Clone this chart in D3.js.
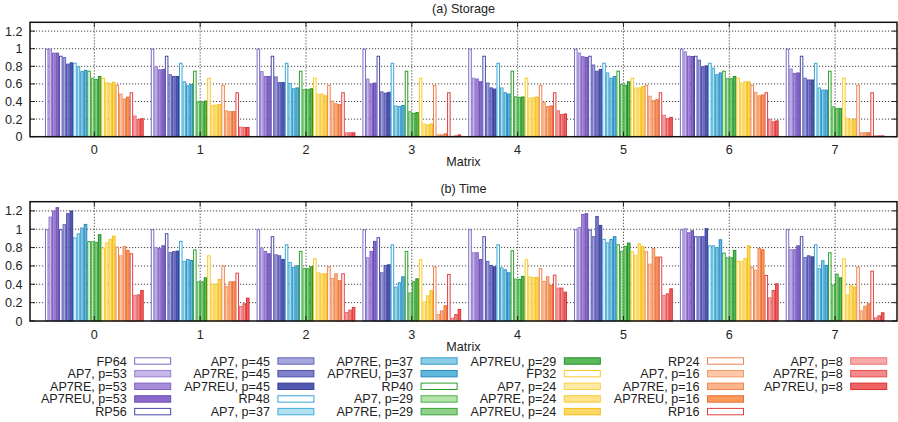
<!DOCTYPE html>
<html><head><meta charset="utf-8">
<script src="https://cdn.jsdelivr.net/npm/d3@7"></script>
<style>
body{margin:0;background:#fff}
text{font-family:"Liberation Sans",Arial,Helvetica,sans-serif;fill:#222}
</style>
</head><body>
<svg id="chart" width="898" height="422"></svg>
<script>
const matrices = ["0","1","2","3","4","5","6","7"];
const seriesNames = ["FP64","AP7, p=53","AP7RE, p=53","AP7REU, p=53","RP56",
  "AP7, p=45","AP7RE, p=45","AP7REU, p=45","RP48",
  "AP7, p=37","AP7RE, p=37","AP7REU, p=37","RP40",
  "AP7, p=29","AP7RE, p=29","AP7REU, p=29","FP32",
  "AP7, p=24","AP7RE, p=24","AP7REU, p=24","RP24",
  "AP7, p=16","AP7RE, p=16","AP7REU, p=16","RP16",
  "AP7, p=8","AP7RE, p=8","AP7REU, p=8"];
const fillColors = ["#ffffff","#c7b6e8","#a98cd9","#8a6acb","#ffffff",
  "#a7a7de","#8080cc","#5359b1","#ffffff",
  "#b2e1ef","#8dcfe8","#5fb7de","#ffffff",
  "#b3e5ab","#92d18a","#5ab95a","#ffffff",
  "#feeaa3","#fee48a","#fdd863","#ffffff",
  "#fdc8a8","#fcb58a","#fa9b5c","#ffffff",
  "#f9aaaa","#f68a8a","#f16262"];
const strokeColors = ["#7a6cc4","#9a80d0","#8062c4","#6a4bb2","#4848a8",
  "#6464bc","#4e4eaa","#3a3f98","#3aa6d8",
  "#48acd4","#3598c8","#2a88c0","#2ca02c",
  "#4cae4c","#38a238","#22902a","#f8c820",
  "#f8d24a","#f6cb34","#f2bf14","#f0804e",
  "#f29a6a","#ee8652","#e67032","#e04040",
  "#ec7070","#e25050","#d83434"];

const storageM0 = [1.0,1.0,0.955,0.955,0.92,0.905,0.83,0.845,0.84,0.80,0.745,0.76,0.75,0.67,0.655,0.69,0.67,0.62,0.61,0.625,0.59,0.49,0.435,0.455,0.505,0.24,0.20,0.21];
const storageM1 = [1.0,0.80,0.765,0.77,0.92,0.71,0.69,0.69,0.84,0.63,0.585,0.60,0.75,0.40,0.40,0.41,0.67,0.36,0.365,0.37,0.59,0.30,0.29,0.29,0.505,0.115,0.11,0.11];
const storageM2 = [1.0,0.745,0.69,0.69,0.92,0.685,0.62,0.62,0.84,0.61,0.55,0.56,0.75,0.54,0.54,0.55,0.67,0.487,0.49,0.47,0.59,0.41,0.38,0.37,0.505,0.05,0.05,0.05];
const storageM3 = [1.0,0.66,0.605,0.615,0.92,0.515,0.50,0.51,0.84,0.355,0.348,0.36,0.75,0.29,0.27,0.28,0.67,0.15,0.14,0.15,0.59,0.026,0.026,0.038,0.505,0.01,0.015,0.026];
const storageM4 = [1.0,0.67,0.66,0.63,0.92,0.615,0.56,0.547,0.84,0.56,0.505,0.49,0.75,0.46,0.453,0.457,0.67,0.445,0.449,0.457,0.59,0.396,0.347,0.355,0.505,0.30,0.257,0.264];
const storageM5 = [1.0,0.955,0.915,0.905,0.92,0.82,0.75,0.77,0.84,0.73,0.67,0.69,0.75,0.60,0.59,0.63,0.67,0.56,0.56,0.575,0.59,0.465,0.415,0.425,0.505,0.25,0.21,0.225];
const storageM6 = [1.0,0.97,0.92,0.917,0.92,0.875,0.80,0.81,0.84,0.785,0.71,0.73,0.75,0.665,0.665,0.69,0.67,0.615,0.63,0.63,0.59,0.51,0.47,0.48,0.505,0.20,0.175,0.185];
const storageM7 = [1.0,0.775,0.725,0.73,0.92,0.67,0.65,0.65,0.84,0.56,0.535,0.535,0.75,0.345,0.325,0.325,0.67,0.215,0.195,0.205,0.59,0.05,0.05,0.05,0.505,0.015,0.015,0.015];

const timeM0 = [1.0,1.138,1.204,1.24,1.0,1.055,1.175,1.204,0.91,0.956,1.018,1.058,0.87,0.87,0.862,0.945,0.80,0.858,0.895,0.93,0.81,0.716,0.818,0.775,0.738,0.284,0.29,0.338];
const timeM1 = [1.0,0.807,0.796,0.825,0.956,0.75,0.76,0.767,0.873,0.655,0.676,0.665,0.78,0.433,0.433,0.476,0.716,0.407,0.407,0.458,0.604,0.382,0.433,0.433,0.527,0.164,0.193,0.255];
const timeM2 = [1.0,0.80,0.764,0.738,0.924,0.727,0.716,0.676,0.836,0.644,0.589,0.607,0.764,0.578,0.575,0.596,0.684,0.531,0.52,0.52,0.596,0.469,0.52,0.444,0.52,0.098,0.124,0.153];
const timeM3 = [1.0,0.695,0.764,0.873,0.913,0.531,0.611,0.618,0.836,0.375,0.422,0.487,0.764,0.309,0.433,0.465,0.673,0.215,0.28,0.335,0.593,0.076,0.116,0.171,0.513,0.036,0.076,0.131];
const timeM4 = [1.0,0.749,0.749,0.676,0.924,0.655,0.611,0.596,0.836,0.585,0.564,0.531,0.771,0.462,0.458,0.491,0.673,0.487,0.48,0.48,0.575,0.436,0.487,0.393,0.505,0.364,0.364,0.32];
const timeM5 = [1.0,1.025,1.167,1.175,0.996,0.924,1.145,1.047,0.895,0.858,0.895,0.924,0.836,0.764,0.818,0.855,0.76,0.72,0.847,0.815,0.76,0.625,0.796,0.702,0.702,0.284,0.302,0.356];
const timeM6 = [1.0,1.011,0.967,0.989,0.924,0.924,0.924,1.011,0.825,0.825,0.804,0.891,0.745,0.695,0.695,0.775,0.655,0.655,0.687,0.825,0.589,0.56,0.796,0.782,0.502,0.258,0.338,0.411];
const timeM7 = [1.0,0.782,0.782,0.825,0.924,0.698,0.716,0.705,0.836,0.575,0.662,0.611,0.749,0.396,0.516,0.476,0.684,0.291,0.393,0.375,0.593,0.116,0.167,0.193,0.549,0.04,0.062,0.095];

const yTickValues = [0,0.2,0.4,0.6,0.8,1,1.2];
const yTickLabels = ["0","0.2","0.4","0.6","0.8","1","1.2"];

const storageData = [storageM0,storageM1,storageM2,storageM3,storageM4,storageM5,storageM6,storageM7];
const timeData = [timeM0,timeM1,timeM2,timeM3,timeM4,timeM5,timeM6,timeM7];

const FS = 12.6;
const svg = d3.select("#chart");
const nS = seriesNames.length;
const slots = nS + 2;
const plotLeft = 30, plotRight = 897;
const x = d3.scaleLinear().domain([-0.608, 7.585]).range([plotLeft, plotRight]);

function panel(data, top, bottom, title) {
  const y = d3.scaleLinear().domain([0, 1.3]).range([bottom, top]);
  const g = svg.append("g");
  // grid
  g.selectAll("line.hg").data(yTickValues.filter(v => v > 0)).join("line")
    .attr("x1", plotLeft).attr("x2", plotRight)
    .attr("y1", d => y(d)).attr("y2", d => y(d))
    .attr("stroke", "#444").attr("stroke-width", 1).attr("stroke-dasharray", "1.2,1.8");
  g.selectAll("line.vg").data(matrices).join("line")
    .attr("x1", (d,i) => x(i)).attr("x2", (d,i) => x(i))
    .attr("y1", top).attr("y2", bottom)
    .attr("stroke", "#444").attr("stroke-width", 1).attr("stroke-dasharray", "1.2,1.8");
  // bars
  const bw = x(1/slots) - x(0);
  const bars = [];
  data.forEach((vals, mi) => vals.forEach((v, si) => bars.push({mi, si, v})));
  g.selectAll("rect.bar").data(bars).join("rect")
    .attr("x", d => x(d.mi + (d.si - nS/2)/slots) + 0.5)
    .attr("width", bw - 1)
    .attr("y", d => y(d.v) + 0.5)
    .attr("height", d => Math.max(0, y(0) - y(d.v) - 0.5))
    .attr("fill", d => fillColors[d.si])
    .attr("stroke", d => strokeColors[d.si])
    .attr("stroke-width", 1);
  // ticks
  const tl = 5;
  matrices.forEach((m, i) => {
    g.append("line").attr("x1", x(i)).attr("x2", x(i)).attr("y1", bottom).attr("y2", bottom - tl).attr("stroke", "#222");
    g.append("line").attr("x1", x(i)).attr("x2", x(i)).attr("y1", top).attr("y2", top + tl).attr("stroke", "#222");
    g.append("text").attr("x", x(i)).attr("y", bottom + 17.5).attr("text-anchor", "middle")
      .attr("font-size", FS).text(m);
  });
  yTickValues.forEach((v, i) => {
    g.append("line").attr("x1", plotLeft).attr("x2", plotLeft + tl).attr("y1", y(v)).attr("y2", y(v)).attr("stroke", "#222");
    g.append("line").attr("x1", plotRight).attr("x2", plotRight - tl).attr("y1", y(v)).attr("y2", y(v)).attr("stroke", "#222");
    g.append("text").attr("x", 22.5).attr("y", y(v)).attr("dy", "0.36em").attr("text-anchor", "end")
      .attr("font-size", FS).text(yTickLabels[i]);
  });
  // frame
  g.append("rect").attr("x", plotLeft).attr("y", top).attr("width", plotRight - plotLeft).attr("height", bottom - top)
    .attr("fill", "none").attr("stroke", "#111").attr("stroke-width", 1.5);
  g.append("text").attr("x", (plotLeft + plotRight) / 2).attr("y", top - 9).attr("text-anchor", "middle")
    .attr("font-size", FS).text(title);
  g.append("text").attr("x", (plotLeft + plotRight) / 2).attr("y", bottom + 29.5).attr("text-anchor", "middle")
    .attr("font-size", FS).text("Matrix");
}

panel(storageData, 22.3, 136.7, "(a) Storage");
panel(timeData, 201.7, 321, "(b) Time");

// legend
const lg = svg.append("g");
seriesNames.forEach((name, i) => {
  const col = Math.floor(i / 5), row = i % 5;
  const tx = 126.7 + col * 143.2;
  const cy = 361 + row * 12.65;
  lg.append("text").attr("x", tx).attr("y", cy).attr("dy", "0.36em").attr("text-anchor", "end")
    .attr("font-size", FS).text(name);
  lg.append("rect").attr("x", tx + 8).attr("y", cy - 3.2).attr("width", 36).attr("height", 6.4)
    .attr("fill", fillColors[i]).attr("stroke", strokeColors[i]).attr("stroke-width", 1);
});
</script>
</body></html>
